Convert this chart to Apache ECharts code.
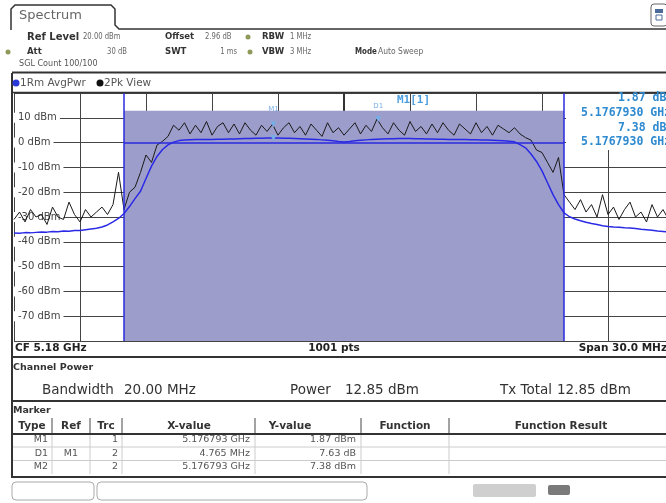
<!DOCTYPE html>
<html><head><meta charset="utf-8">
<script src="https://cdn.jsdelivr.net/npm/echarts@6/dist/echarts.min.js"></script>
<style>html,body{margin:0;padding:0;background:#fff}#c{width:666px;height:503px}</style>
</head><body><div id="c"></div><script>
// ---- data (frequency offsets in MHz relative to CF 5.18 GHz) ----
const freqOffsetMHz = [-15,-14.75,-14.5,-14.25,-14,-13.75,-13.5,-13.25,-13,-12.75,-12.5,-12.25,-12,-11.75,-11.5,-11.25,-11,-10.75,-10.5,-10.25,
-10,-9.75,-9.5,-9.25,-9,-8.75,-8.5,-8.25,-8,-7.75,-7.5,-7.25,-7,-6.75,-6.5,-6.25,-6,-5.75,-5.5,-5.25,
-5,-4.75,-4.5,-4.25,-4,-3.75,-3.5,-3.25,-3,-2.75,-2.5,-2.25,-2,-1.75,-1.5,-1.25,-1,-0.75,-0.5,-0.25,
0,0.25,0.5,0.75,1,1.25,1.5,1.75,2,2.25,2.5,2.75,3,3.25,3.5,3.75,4,4.25,4.5,4.75,
5,5.25,5.5,5.75,6,6.25,6.5,6.75,7,7.25,7.5,7.75,8,8.25,8.5,8.75,9,9.25,9.5,9.75,
10,10.25,10.5,10.75,11,11.25,11.5,11.75,12,12.25,12.5,12.75,13,13.25,13.5,13.75,14,14.25,14.5,14.75,15];
const rmsAvgDbm = [-36.5,-36.6,-36.3,-36.4,-36.2,-36.0,-36.1,-35.8,-35.9,-35.6,
-35.7,-35.4,-35.4,-35.1,-34.8,-34.5,-34.0,-33.2,-32.0,-30.6,
-28.6,-25.8,-22.6,-19.6,-14.5,-9.5,-5.6,-2.8,-0.9,0.2,
0.8,1.0,1.1,1.2,1.2,1.3,1.3,1.4,1.4,1.5,
1.5,1.6,1.7,1.7,1.8,1.8,1.9,1.9,1.9,1.8,
1.8,1.7,1.6,1.5,1.4,1.3,1.1,0.9,0.7,0.4,
0.2,0.4,0.7,0.9,1.1,1.3,1.4,1.5,1.6,1.6,
1.7,1.7,1.7,1.6,1.6,1.5,1.5,1.4,1.4,1.3,
1.3,1.2,1.2,1.1,1.1,1.0,1.0,0.9,0.8,0.7,
0.5,0.3,-0.8,-2.1,-4.6,-7.6,-11.4,-16.2,-21.0,-25.0,
-28.3,-29.9,-30.8,-31.5,-32.1,-32.6,-33.0,-33.5,-33.8,-34.0,
-34.1,-34.3,-34.4,-34.6,-34.9,-35.1,-35.3,-35.6,-35.8,-36.0,-36.1];
const peakDbm = [-31,-28,-32,-27,-30,-29,-33,-26,-30,-31,
-24,-29,-32,-27,-30,-28,-26,-29,-25,-12,
-27,-20,-18,-12,-5,-8,-1,0.5,2.5,7,
5,8,3.5,7,4,8.5,3,6.5,8,4,
7.5,3.5,8,5,3,7,4.5,7.4,3,6,
8,4,6.5,3,7.5,5,2.5,8,4,6,
3,5.5,8,3.5,7,4.5,9.5,6,3.5,8,
5,3,8.5,4.5,6.5,3.5,7.5,4,8,5,
3,7.5,5.5,3.5,8,4,6.5,3,7,5.5,
4,6,3.5,2,1,-3,-4,-8,-12,-6,
-21,-24,-27,-23,-28,-25,-30,-21,-29,-26,
-31,-27,-24,-30,-28,-32,-25,-30,-27,-31,-28];
const spanStartMHz = -15;       // left edge of the 30 MHz span
const visibleEndMHz = 14.636;   // screen is cropped just before the right edge (+15 MHz)
const channelEdgesMHz = [-10, 10];
const channelPowerDbm = 12.85;
const markerNames = ['M1','D1','M2'];
const markerFreqMHz = [-3.207, 1.558, -3.207];
const markerLevelDbm = [1.87, 9.50, 7.38];
const tableHeaders = ['Type','Ref','Trc','X-value','Y-value','Function','Function Result'];
const tableType = ['M1','D1','M2'];
const tableRef = ['','M1',''];
const tableTrc = ['1','2','2'];
const tableX = ['5.176793 GHz','4.765 MHz','5.176793 GHz'];
const tableY = ['1.87 dBm','7.63 dB','7.38 dBm'];

// ---- helpers for static screen text ----
const FONT = '"DejaVu Sans"';
function T(x, y, text, o) {
  o = o || {};
  return {type:'text', x:x, y:y, scaleX:o.sx||1, z:100,
    style:{text:text, x:0, y:0, fill:o.c||'#555',
      font:(o.b?'bold ':'')+(o.s||10)+'px '+(o.f||FONT),
      textAlign:o.a||'left', align:o.a||'left', textVerticalAlign:'middle', verticalAlign:'middle'}};
}
function L(x1,y1,x2,y2,c,w){return {type:'line',z:90,shape:{x1,y1,x2,y2},style:{stroke:c||'#333',lineWidth:w||1}};}
function R(x,y,w,h,fill,stroke,r,z){return {type:'rect',z:z||80,shape:{x,y,width:w,height:h,r:r||0},style:{fill:fill||'none',stroke:stroke||null,lineWidth:1}};}
function C(cx,cy,r,fill){return {type:'circle',z:100,shape:{cx,cy,r},style:{fill}};}

const g = [];
// tab + header frame
g.push({type:'polyline',z:90,shape:{points:[[11,30],[11,9],[15,5],[111,5],[115,9],[115,25],[119,29],[666,29]]},style:{stroke:'#333',lineWidth:1.5,fill:null}});
g.push(T(19,16,'Spectrum',{s:13,c:'#666'}));
g.push(R(651,4,16,22,'#fff','#666',3,90));
g.push(R(655,9,8,4,'#4a6a9a',null,0,95));
g.push(R(656,15,6,5,'none','#4a6a9a',0,95));
// row 1
g.push(T(27,37,'Ref Level',{b:1,s:10,c:'#333'}));
g.push(T(83,37,'20.00 dBm',{s:9.5,c:'#666',sx:0.72}));
g.push(T(165,37,'Offset',{b:1,s:9.5,c:'#333',sx:0.9}));
g.push(T(205,37,'2.96 dB',{s:9.5,c:'#666',sx:0.72}));
g.push(C(248,37,2.5,'#8f9a5a'));
g.push(T(262,37,'RBW',{b:1,s:9.5,c:'#333',sx:0.9}));
g.push(T(290,37,'1 MHz',{s:9.5,c:'#666',sx:0.72}));
// row 2
g.push(C(8,52,2.5,'#8f9a5a'));
g.push(T(27,52,'Att',{b:1,s:9.5,c:'#333',sx:0.9}));
g.push(T(127,52,'30 dB',{s:9.5,c:'#666',sx:0.72,a:'right'}));
g.push(T(165,52,'SWT',{b:1,s:9.5,c:'#333',sx:0.9}));
g.push(T(237,52,'1 ms',{s:9.5,c:'#666',sx:0.72,a:'right'}));
g.push(C(250,52,2.5,'#8f9a5a'));
g.push(T(262,52,'VBW',{b:1,s:9.5,c:'#333',sx:0.9}));
g.push(T(290,52,'3 MHz',{s:9.5,c:'#666',sx:0.72}));
g.push(T(355,52,'Mode',{b:1,s:9.5,c:'#333',sx:0.75}));
g.push(T(378,52,'Auto Sweep',{s:9.5,c:'#666',sx:0.8}));
// row 3
g.push(T(19,64,'SGL Count 100/100',{s:9.5,c:'#555',sx:0.85}));
g.push(L(12,72.5,666,72.5,'#333',2));
// trace legend row
g.push(C(16,83,3.5,'#2a3ad8'));
g.push(T(20,83,'1Rm AvgPwr',{s:11,c:'#555',sx:0.95}));
g.push(C(100,83,3.5,'#111'));
g.push(T(104,83,'2Pk View',{s:11,c:'#555',sx:0.95}));
// plot frame top / left
g.push(L(12,92.5,666,92.5,'#333',1.5));
g.push(L(12,73,12,478,'#333',2));
// marker info box (top-right)
g.push(R(566,94,100,56,'#fff',null,0,60));
const MC = '#2f8ad0', MF = '"DejaVu Sans Mono"';
g.push(T(397,100,'M1[1]',{s:11,c:'#4a9ee0',f:MF,b:1}));
g.push(T(618,98,'1.87 dBm',{s:11.5,c:MC,f:MF,b:1}));
g.push(T(581,113,'5.1767930 GHz',{s:11.5,c:MC,f:MF,b:1}));
g.push(T(618,128,'7.38 dBm',{s:11.5,c:MC,f:MF,b:1}));
g.push(T(581,142,'5.1767930 GHz',{s:11.5,c:MC,f:MF,b:1}));
// bottom of plot
g.push(R(13,342,653,14,'#fff',null,0,60));
g.push(T(15,348,'CF 5.18 GHz',{b:1,s:10.5,c:'#222'}));
g.push(T(334,348,'1001 pts',{b:1,s:10.5,c:'#222',a:'center'}));
g.push(T(667,348,'Span 30.0 MHz',{b:1,s:10.5,c:'#222',a:'right'}));
g.push(L(12,357,666,357,'#333',2));
// channel power
g.push(T(13,368,'Channel Power',{b:1,s:9.5,c:'#333'}));
g.push(T(42,390,'Bandwidth',{s:13.5,c:'#333'}));
g.push(T(124,390,'20.00 MHz',{s:13.5,c:'#333'}));
g.push(T(290,390,'Power',{s:13.5,c:'#333'}));
g.push(T(345,390,channelPowerDbm.toFixed(2)+' dBm',{s:13.5,c:'#333'}));
g.push(T(500,390,'Tx Total',{s:13.5,c:'#333'}));
g.push(T(557,390,channelPowerDbm.toFixed(2)+' dBm',{s:13.5,c:'#333'}));
g.push(L(12,401,666,401,'#333',2));
// marker table
g.push(T(13,411,'Marker',{b:1,s:9.5,c:'#333'}));
const colSep = [52,90,122,255,361,449];
const hdrX = [32,71,106,189,290,405,561];
tableHeaders.forEach((h,i)=>g.push(T(hdrX[i],426,h,{b:1,s:10.5,c:'#333',a:'center'})));
colSep.forEach(x=>{g.push(L(x,418,x,434,'#666',1.2)); g.push(L(x,434,x,474,'#ccc',1));});
g.push(L(13,434,666,434,'#333',2));
const rowY = [440,453.5,467];
[447,460.5].forEach(y=>g.push(L(13,y,666,y,'#ccc',1)));
rowY.forEach((y,i)=>{
  g.push(T(48,y,tableType[i],{s:9.5,c:'#555',a:'right'}));
  g.push(T(78,y,tableRef[i],{s:9.5,c:'#555',a:'right'}));
  g.push(T(118,y,tableTrc[i],{s:9.5,c:'#555',a:'right'}));
  g.push(T(250,y,tableX[i],{s:9.5,c:'#555',a:'right'}));
  g.push(T(356,y,tableY[i],{s:9.5,c:'#555',a:'right'}));
});
g.push(L(12,477,666,477,'#333',2));
// bottom soft-key strip
g.push(R(12,482,82,18,'#fff','#aaa',4,80));
g.push(R(97,482,270,18,'#fff','#aaa',4,80));
g.push(R(473,484,63,13,'#cfcfcf',null,2,80));
g.push(R(548,485,22,10,'#7a7a7a',null,2,80));

const chart = echarts.init(document.getElementById('c'), null, {renderer:'canvas'});
const pairs = (xs, ys) => xs.map((x,i)=>[x, ys[i]]);
chart.setOption({
  animation:false,
  backgroundColor:'#fff',
  grid:{left:14, right:0, top:93, height:248, containLabel:false},
  xAxis:{type:'value', min:spanStartMHz, max:visibleEndMHz, interval:3,
    axisLine:{show:false}, axisTick:{show:false}, axisLabel:{show:false},
    splitLine:{show:true, lineStyle:{color:'#444', width:1}}},
  yAxis:{type:'value', min:-80, max:20, interval:10,
    axisLine:{show:true, lineStyle:{color:'#333', width:2}}, axisTick:{show:false},
    axisLabel:{inside:true, margin:0, showMinLabel:false, showMaxLabel:false,
      formatter:v=>v+' dBm', color:'#444', fontSize:10, fontFamily:'DejaVu Sans',
      backgroundColor:'#fff', padding:[0,3,0,4]},
    splitLine:{show:true, lineStyle:{color:'#444', width:1}}},
  graphic:{elements:g},
  series:[
    {type:'line', name:'channel', data:[], z:1, silent:true,
      markArea:{silent:true, itemStyle:{color:'#9d9dcb', opacity:1},
        data:[[{xAxis:channelEdgesMHz[0], yAxis:-80},{xAxis:channelEdgesMHz[1], yAxis:channelPowerDbm}]]},
      markLine:{silent:true, symbol:'none', label:{show:false},
        lineStyle:{color:'#2a2ae0', width:1.5, type:'solid'},
        data:[{xAxis:channelEdgesMHz[0]},{xAxis:channelEdgesMHz[1]},
          [{coord:[channelEdgesMHz[0],0]},{coord:[channelEdgesMHz[1],0]}]]}},
    {type:'line', name:'2Pk View', data:pairs(freqOffsetMHz, peakDbm), z:3,
      showSymbol:false, lineStyle:{color:'#1a1a1a', width:1}, silent:true,
      markPoint:{silent:true, symbol:'triangle', symbolRotate:180, symbolSize:6,
        itemStyle:{color:'#78aee6'},
        label:{show:true, position:'top', distance:6, color:'#78aee6', fontSize:7, fontFamily:'DejaVu Sans', formatter:p=>p.name},
        data:[{name:markerNames[1], coord:[markerFreqMHz[1], markerLevelDbm[1]]},
              {name:'', coord:[markerFreqMHz[2], markerLevelDbm[2]]}]}},
    {type:'line', name:'1Rm AvgPwr', data:pairs(freqOffsetMHz, rmsAvgDbm), z:4,
      showSymbol:false, lineStyle:{color:'#2a2ae6', width:1.5}, silent:true,
      markPoint:{silent:true, symbol:'triangle', symbolRotate:180, symbolSize:6,
        itemStyle:{color:'#78aee6'},
        label:{show:true, position:'top', distance:22, color:'#78aee6', fontSize:7, fontFamily:'DejaVu Sans', formatter:p=>p.name},
        data:[{name:markerNames[0], coord:[markerFreqMHz[0], markerLevelDbm[0]]}]}}
  ]
});
</script></body></html>
